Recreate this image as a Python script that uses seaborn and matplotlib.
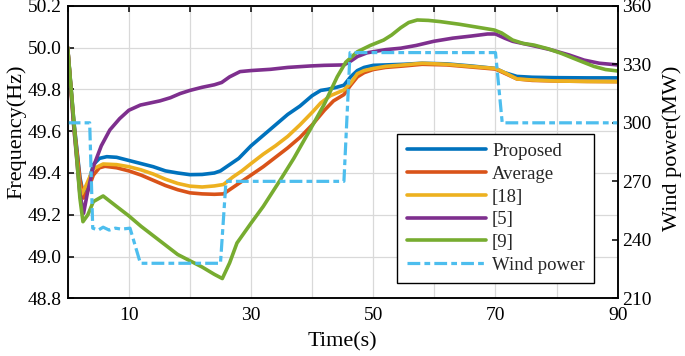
import pandas as pd
import matplotlib
matplotlib.use("Agg")
import matplotlib.pyplot as plt
import seaborn as sns

# datos
t_prop = [0, 1, 2, 2.6, 3.2, 4.2, 5.2, 6.4, 8, 10, 12, 14, 16, 18, 20, 22, 24, 25, 26.5, 28,
          30, 32, 34, 36, 38, 40, 41.4, 42.5, 44, 45.2, 46.3, 47.4, 48.5, 50, 52, 55, 58, 62,
          66, 70, 71.5, 73.5, 76, 80, 85, 90]
f_prop = [50.0, 49.65, 49.38, 49.29, 49.33, 49.44, 49.47, 49.478, 49.475, 49.46, 49.445, 49.43,
          49.41, 49.40, 49.392, 49.393, 49.40, 49.41, 49.44, 49.47, 49.53, 49.58, 49.63, 49.68,
          49.72, 49.77, 49.795, 49.80, 49.81, 49.82, 49.86, 49.89, 49.905, 49.915, 49.917, 49.92,
          49.925, 49.922, 49.912, 49.90, 49.88, 49.862, 49.858, 49.856, 49.855, 49.855]

t_avg = [0, 1, 2, 2.6, 3.2, 4.2, 5.2, 6.1, 8, 10, 12, 14, 16, 18, 20, 22, 24, 25.5, 27, 28.5,
         30, 32, 34, 36, 38, 40, 42, 43.5, 45.2, 46.3, 47.4, 48.5, 50, 52, 55, 58, 62, 66, 70,
         71.5, 73.5, 76, 80, 85, 90]
f_avg = [50.0, 49.64, 49.37, 49.28, 49.31, 49.39, 49.425, 49.432, 49.425, 49.41, 49.39, 49.365,
         49.34, 49.32, 49.305, 49.30, 49.298, 49.30, 49.33, 49.36, 49.39, 49.43, 49.475, 49.52,
         49.57, 49.63, 49.70, 49.745, 49.775, 49.82, 49.86, 49.88, 49.895, 49.905, 49.912, 49.92,
         49.917, 49.907, 49.897, 49.877, 49.85, 49.843, 49.84, 49.838, 49.837]

t_18 = [0, 1, 2, 2.3, 3, 4.2, 5.8, 8, 10, 12, 14, 16, 18, 20, 22, 24, 25.5, 27, 28.5, 30, 32,
        34, 36, 38, 40, 41.4, 43, 45.2, 46.3, 47.4, 48.5, 50, 52, 55, 58, 62, 66, 70, 71.5,
        73.5, 76, 80, 85, 90]
f_18 = [50.0, 49.62, 49.33, 49.30, 49.34, 49.42, 49.443, 49.44, 49.43, 49.415, 49.395, 49.37,
        49.35, 49.337, 49.333, 49.338, 49.345, 49.38, 49.41, 49.445, 49.49, 49.53, 49.575, 49.63,
        49.69, 49.735, 49.77, 49.797, 49.83, 49.875, 49.89, 49.90, 49.91, 49.917, 49.925, 49.92,
        49.91, 49.90, 49.88, 49.85, 49.845, 49.84, 49.838, 49.837]

t_5 = [0, 1, 2, 2.6, 3.2, 4.2, 5.5, 6.9, 8.5, 10, 11.9, 13.5, 15.1, 16.8, 18.4, 20, 22, 24,
       25.2, 26.5, 28.2, 30, 33.2, 36, 39.7, 42, 45.2, 46.3, 47.4, 49, 52, 54.5, 57, 59.9, 63,
       66, 68.7, 70, 71.5, 72.8, 76, 79, 82, 84.5, 87, 90]
f_5 = [50.0, 49.62, 49.30, 49.207, 49.30, 49.43, 49.53, 49.606, 49.66, 49.70, 49.725, 49.735,
       49.745, 49.76, 49.78, 49.795, 49.81, 49.822, 49.833, 49.86, 49.885, 49.89, 49.896, 49.905,
       49.912, 49.915, 49.917, 49.935, 49.957, 49.975, 49.99, 49.997, 50.01, 50.03, 50.045,
       50.055, 50.065, 50.065, 50.045, 50.03, 50.01, 49.99, 49.965, 49.94, 49.925, 49.917]

t_9 = [0, 1, 2, 2.5, 3.3, 4.2, 5.8, 8, 10, 12, 14, 16, 18, 20, 22, 24, 25.3, 26.5, 27.7, 30,
       32, 34.8, 37, 40.3, 42, 44.1, 45.5, 47.4, 49.5, 51.7, 53, 54.5, 55.8, 57.2, 59, 61, 64,
       66.5, 69.8, 71, 72.8, 74.5, 76.3, 78.5, 80.7, 83.5, 86.1, 88, 90]
f_9 = [50.0, 49.65, 49.28, 49.167, 49.20, 49.263, 49.29, 49.24, 49.195, 49.145, 49.10, 49.055,
       49.01, 48.98, 48.95, 48.915, 48.895, 48.97, 49.065, 49.16, 49.24, 49.367, 49.47, 49.64,
       49.73, 49.86, 49.93, 49.98, 50.01, 50.036, 50.06, 50.095, 50.12, 50.132, 50.13, 50.124,
       50.112, 50.1, 50.084, 50.07, 50.036, 50.02, 50.012, 49.995, 49.973, 49.94, 49.91, 49.895,
       49.888]

t_wind = [0, 3.6, 4.1, 5, 5.8, 6.8, 7.8, 8.8, 10.2, 11.9, 25.0, 25.9, 45.2, 46.2, 70.0, 71.1, 90]
p_wind = [300, 300, 246, 245, 246.5, 245, 246, 245.5, 246, 228, 228, 270, 270, 336, 336, 300, 300]

nombres = ["Proposed", "Average", "[18]", "[5]", "[9]"]
colores = ["#0072BD", "#D95319", "#EDB120", "#7E2F8E", "#77AC30"]
color_viento = "#4DBEEE"

trozos = []
for nom, t, f in zip(nombres, [t_prop, t_avg, t_18, t_5, t_9], [f_prop, f_avg, f_18, f_5, f_9]):
    trozos.append(pd.DataFrame({"t": t, "f": f, "metodo": nom}))
df = pd.concat(trozos, ignore_index=True)
df_viento = pd.DataFrame({"t": t_wind, "p": p_wind})

sns.set_theme(style="whitegrid")
plt.rcParams["font.family"] = ["Liberation Serif", "DejaVu Serif"]
plt.rcParams["axes.edgecolor"] = "black"
plt.rcParams["axes.linewidth"] = 1.1

fig = plt.figure(figsize=(6.85, 3.56), dpi=100)
ax = fig.add_axes([0.0988, 0.1618, 0.803, 0.822])

sns.lineplot(data=df, x="t", y="f", hue="metodo", hue_order=nombres, palette=colores,
             estimator=None, sort=False, linewidth=2.6, legend=False, ax=ax)

ax.set_xlim(0, 90)
ax.set_ylim(48.8, 50.2)
ax.set_xticks(range(0, 91, 10))
ax.set_xticklabels(["" if v % 20 == 0 else str(v) for v in range(0, 91, 10)])
ax.set_yticks([48.8 + 0.2 * i for i in range(8)])
ax.set_yticklabels([f"{48.8 + 0.2 * i:.1f}" for i in range(8)])
ax.grid(True, color="#d9d9d9", linewidth=0.9)
ax.tick_params(axis="x", direction="in", top=True, length=4, width=1.1, pad=6,
               labelsize=14, colors="black")
ax.tick_params(axis="y", direction="in", right=False, length=4, width=1.1, pad=4,
               labelsize=14, colors="black")
ax.set_xlabel("Time(s)", fontsize=16, color="black")
ax.set_ylabel("Frequency(Hz)", fontsize=16, color="black")
ax.xaxis.set_label_coords(0.5, -0.115)
ax.yaxis.set_label_coords(-0.075, 0.57)

ax2 = ax.twinx()
sns.lineplot(data=df_viento, x="t", y="p", color=color_viento, estimator=None, sort=False,
             linewidth=2.3, ax=ax2, label="Wind power")
ax2.lines[0].set_dashes([4.0, 1.3, 1.8, 1.3])
ax2.set_ylim(210, 360)
ax2.set_yticks(range(210, 361, 30))
ax2.grid(False)
ax2.tick_params(axis="y", direction="in", length=4, width=1.1, pad=3, labelsize=14,
                colors="black")
ax2.set_ylabel("Wind power(MW)", fontsize=16, color="black")
ax2.yaxis.set_label_coords(1.081, 0.514)
for sp in ax2.spines.values():
    sp.set_color("black")
    sp.set_linewidth(1.1)

manejadores = list(ax.get_lines()[:5]) + [ax2.lines[0]]
etiquetas = nombres + ["Wind power"]
ley = ax2.legend(manejadores, etiquetas, loc="lower right", bbox_to_anchor=(0.957, 0.052),
                 borderaxespad=0, fontsize=13.5, handlelength=4.2, handletextpad=0.35,
                 labelspacing=0.3, borderpad=0.5, fancybox=False, framealpha=1,
                 edgecolor="black")
ley.get_frame().set_linewidth(1.0)

plt.savefig("out.png", dpi=100)
plt.close()
